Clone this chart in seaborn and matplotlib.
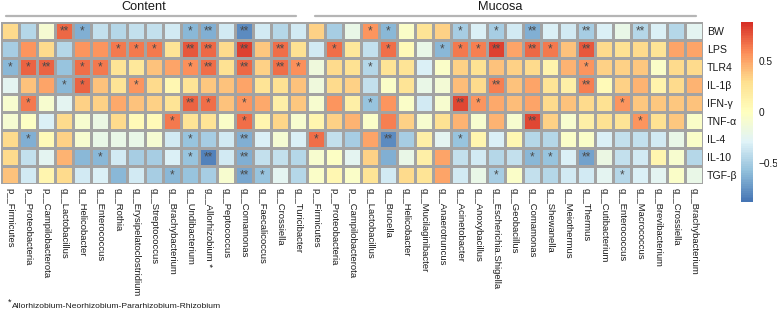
import numpy as np
import pandas as pd
import matplotlib
matplotlib.use("Agg")
import matplotlib.pyplot as plt
import seaborn as sns
from matplotlib.colors import LinearSegmentedColormap
from matplotlib.lines import Line2D

# ---------------- data ----------------
factors = ["BW", "LPS", "TLR4", "IL-1β", "IFN-γ", "TNF-α", "IL-4", "IL-10", "TGF-β"]

content_cols = ["p__Firmicutes", "p__Proteobacteria", "p__Campilobacterota", "g__Lactobacillus",
                "g__Helicobacter", "g__Enterococcus", "g__Rothia", "g__Erysipelatoclostridium",
                "g__Streptococcus", "g__Brachybacterium", "g__Undibacterium", "g__Allorhizobium *",
                "g__Peptococcus", "g__Comamonas", "g__Faecalicoccus", "g__Crossiella", "g__Turicibacter"]

mucosa_cols = ["p__Firmicutes", "p__Proteobacteria", "p__Campilobacterota", "g__Lactobacillus",
               "g__Brucella", "g__Helicobacter", "g__Mucilaginibacter", "g__Anaerotruncus",
               "g__Acinetobacter", "g__Anoxybacillus", "g__Escherichia.Shigella", "g__Geobacillus",
               "g__Comamonas", "g__Shewanella", "g__Meiothermus", "g__Thermus", "g__Cutibacterium",
               "g__Enterococcus", "g__Macrococcus", "g__Brevibacterium", "g__Crossiella",
               "g__Brachybacterium"]

content_vals = [
    [0.30, -0.45, -0.10, 0.70, -0.65, -0.40, -0.45, -0.40, -0.40, -0.35, -0.60, -0.65, -0.35, -0.78, -0.35, -0.45, -0.35],
    [-0.50, 0.55, 0.30, -0.45, 0.55, 0.55, 0.65, 0.65, 0.65, 0.25, 0.75, 0.70, 0.30, 0.82, 0.38, 0.68, 0.28],
    [-0.60, 0.72, 0.72, -0.55, 0.68, 0.65, 0.25, 0.22, 0.40, 0.50, 0.58, 0.68, 0.28, 0.70, 0.35, 0.68, 0.58],
    [-0.25, 0.40, 0.50, -0.60, 0.72, 0.40, 0.25, 0.55, 0.30, 0.08, 0.25, 0.38, 0.40, 0.50, 0.25, 0.28, 0.40],
    [-0.08, 0.65, -0.08, -0.25, 0.35, 0.35, 0.48, 0.40, 0.35, 0.25, 0.72, 0.68, 0.40, 0.55, 0.48, 0.15, 0.38],
    [-0.10, -0.02, -0.30, 0.30, -0.08, -0.18, 0.30, 0.05, 0.05, 0.65, 0.25, 0.25, -0.05, 0.68, 0.10, 0.32, -0.08],
    [0.30, -0.65, 0.05, 0.35, -0.08, -0.20, -0.20, -0.20, -0.10, -0.35, -0.55, -0.50, -0.35, -0.65, -0.30, -0.10, -0.30],
    [0.30, -0.40, -0.25, 0.45, -0.60, -0.60, -0.35, -0.50, -0.50, -0.30, -0.55, -0.82, -0.35, -0.65, -0.40, -0.40, -0.45],
    [0.40, -0.35, 0.10, 0.30, -0.35, -0.30, -0.60, -0.35, -0.50, -0.60, -0.55, -0.50, -0.08, -0.68, -0.55, -0.25, -0.45],
]

mucosa_vals = [
    [0.35, -0.50, -0.20, 0.55, -0.60, -0.05, 0.25, 0.35, -0.50, -0.30, -0.50, -0.35, -0.65, -0.30, -0.35, -0.50, -0.30, -0.20, -0.45, -0.30, -0.45, -0.25],
    [-0.35, 0.68, 0.22, -0.40, 0.68, 0.05, -0.20, -0.60, 0.65, 0.62, 0.82, 0.50, 0.70, 0.65, 0.40, 0.75, 0.30, 0.28, 0.30, 0.25, 0.50, 0.50],
    [-0.15, 0.30, 0.28, -0.45, 0.25, 0.25, -0.30, -0.05, 0.35, 0.28, 0.40, 0.35, 0.30, 0.12, 0.45, 0.55, 0.35, 0.35, 0.38, -0.05, 0.30, 0.30],
    [-0.15, 0.30, 0.35, -0.40, -0.05, 0.25, -0.20, -0.12, 0.42, 0.30, 0.62, 0.40, 0.50, 0.25, 0.15, 0.62, 0.05, 0.35, 0.45, 0.12, 0.30, 0.45],
    [-0.08, 0.55, 0.15, -0.55, 0.55, -0.05, -0.35, -0.08, 0.80, 0.55, 0.48, 0.42, 0.50, 0.30, 0.40, 0.30, 0.28, 0.55, 0.38, 0.38, 0.38, 0.40],
    [0.10, 0.35, 0.45, -0.05, 0.62, 0.35, -0.08, 0.28, 0.45, -0.08, 0.45, -0.08, 0.80, 0.35, -0.08, 0.15, 0.28, 0.25, 0.55, 0.28, 0.38, -0.05],
    [0.68, -0.40, -0.50, 0.50, -0.78, -0.50, 0.15, -0.25, -0.55, 0.10, -0.30, 0.08, -0.45, -0.45, -0.05, -0.05, -0.30, -0.40, -0.40, -0.35, -0.20, -0.05],
    [-0.08, -0.03, -0.25, 0.35, -0.65, -0.20, 0.15, 0.50, -0.40, -0.35, -0.45, -0.40, -0.60, -0.55, -0.30, -0.70, -0.18, -0.40, -0.35, 0.10, -0.08, -0.45],
    [-0.05, 0.08, -0.05, 0.25, -0.35, 0.30, 0.25, 0.50, -0.35, -0.20, -0.50, -0.05, -0.40, -0.45, -0.35, -0.35, -0.25, -0.45, -0.30, -0.25, -0.05, -0.20],
]

# significance: 0 = none, 1 = *, 2 = **
content_sig = [
    "00021000001202000",
    "00000011102202020",
    "11201100001202021",
    "00011001000000000",
    "01000000002101000",
    "00000000010001000",
    "01000000001002000",
    "00000100001202000",
    "00000000010002100",
]
mucosa_sig = [
    "0001100010102002002000",
    "0100100111202102000000",
    "0001000000000001000000",
    "0000000000200002000000",
    "0001000021000000010000",
    "0000000000002000001000",
    "1000200010000000000000",
    "0000000000001102000000",
    "0000000000100000010000",
]

legend_ticks = [-0.5, 0, 0.5]
legend_labels = ["\u22120.5", "0", "0.5"]
group_titles = ["Content", "Mucosa"]
footnote = "Allorhizobium-Neorhizobium-Pararhizobium-Rhizobium"

# ---------------- figure ----------------
sns.set_theme(style="white")
plt.rcParams["font.family"] = ["Liberation Sans", "DejaVu Sans"]

W, H = 777, 314
fig = plt.figure(figsize=(W / 100, H / 100), dpi=100)


def fx(x):
    return x / W


def fy(y):
    return 1 - y / H


cmap = LinearSegmentedColormap.from_list(
    "pheat", ["#4575B4", "#91BFDB", "#E0F3F8", "#FFFFBF", "#FEE090", "#FC8D59", "#D73027"], N=100)

values = np.hstack([np.array(content_vals), np.array(mucosa_vals)])
sig = [c + m for c, m in zip(content_sig, mucosa_sig)]
stars = np.array([["" if ch == "0" else "*" * int(ch) for ch in row] for row in sig])
xlabels = content_cols + mucosa_cols

ax = fig.add_axes([fx(1), fy(184), fx(702), 162 / H])
cax = fig.add_axes([fx(741), fy(202), fx(12), 180 / H])

sns.heatmap(values, ax=ax, cbar_ax=cax, cmap=cmap, vmin=-0.88, vmax=0.88,
            linewidths=0.75, linecolor="#a3a3a3",
            annot=stars, fmt="",
            annot_kws=dict(color="#4a4a4a", fontsize=8.5, va="center"),
            xticklabels=xlabels, yticklabels=factors)

ax.yaxis.tick_right()
ax.set_yticklabels(factors, rotation=0, fontsize=7.6, color="#1a1a1a")
ax.tick_params(axis="y", length=0, pad=3)
ax.set_xticklabels(xlabels, rotation=270, fontsize=6.8, ha="center", va="top", color="#1a1a1a")
ax.tick_params(axis="x", length=0, pad=3)
ax.set_xlabel("")
ax.set_ylabel("")

cbar = ax.collections[0].colorbar
cbar.outline.set_visible(False)
cbar.set_ticks(legend_ticks)
cbar.set_ticklabels(legend_labels)
cax.tick_params(length=0, labelsize=7.3, pad=4, colors="#1a1a1a")

# group headers
for title, (x0, x1), xc in zip(group_titles, [(6, 296), (315, 696)], [144, 500]):
    fig.add_artist(Line2D([fx(x0), fx(x1)], [fy(16), fy(16)], transform=fig.transFigure,
                          color="#b5b5b5", lw=1.6))
    fig.text(fx(xc), fy(7), title, ha="center", va="center", fontsize=9.2, color="#1a1a1a")

# footnote
fig.text(fx(8), fy(302), "*", ha="left", va="center", fontsize=6.5, color="#1a1a1a")
fig.text(fx(12), fy(306), footnote, ha="left", va="center", fontsize=6.1, color="#1a1a1a")

fig.savefig("out.png", dpi=100)
